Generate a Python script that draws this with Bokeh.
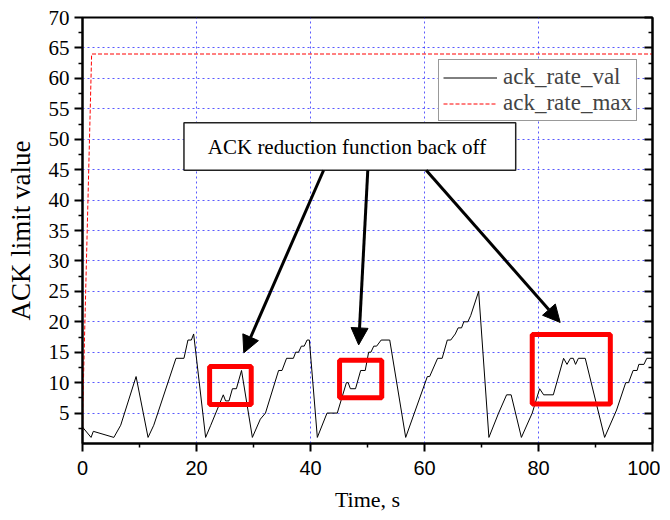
from bokeh.plotting import figure
from bokeh.models import (Range1d, FixedTicker, LinearAxis, Legend, LegendItem,
                          Arrow, NormalHead, CustomJSTickFormatter)
from bokeh.core.properties import value
from bokeh.embed import file_html
from bokeh.resources import INLINE

# ---- data ----
time_s = [0, 1.5, 1.9, 5.5, 6.7, 9.4, 11.5, 12.5, 16.4, 17.8, 18.5, 19.1, 19.5,
          21.6, 22.5, 24.7, 25.1, 25.7, 26.3, 27.0, 27.9, 29.8,
          31.2, 32.1, 34.4, 35.0, 35.8, 37.0, 37.4, 37.9, 38.4, 38.9, 39.4, 39.8,
          41.2, 42.9, 44.7, 46.3, 46.6, 47.0, 47.9, 48.8, 49.6, 50.2, 50.6, 51.1, 51.6, 52.4, 53.9,
          56.7, 60.5, 60.9, 62.3, 63.1, 64.0, 64.6, 65.4, 65.9, 66.5, 66.9, 67.6, 68.1, 69.5,
          71.3, 73.0, 74.4, 75.2, 77.0, 78.9, 80.2, 80.9, 82.6, 84.4, 85.0, 85.6, 86.1, 86.5,
          87.0, 88.2, 91.6, 93.7, 95.3, 95.8, 96.6, 97.3, 97.6, 98.5, 99.0, 100]
ack_rate_val = [2.7, 1, 2, 1, 3, 11, 1, 3, 14, 14, 17, 17, 18,
                1, 3, 8, 7, 7, 9, 9, 12, 1,
                4, 5, 12, 12, 14, 14, 15, 15, 16, 16, 17, 17,
                1, 5, 5, 10, 10, 9, 9, 12, 12, 15, 15, 16, 16, 17, 17,
                1, 11, 11, 14, 14, 17, 17, 18, 19, 19, 20, 20, 21, 25,
                1, 5, 8, 8, 1, 5, 9, 8, 8, 14, 13, 14, 14, 13,
                14, 14, 1, 5.5, 10, 10, 12, 12, 13, 13, 14, 14]
max_time = [0, 0.05, 1.6, 100]
ack_rate_max = [0, 6, 64, 64]

x_ticks = [0, 20, 40, 60, 80, 100]
x_minor = [10, 30, 50, 70, 90]
y_ticks = [5, 10, 15, 20, 25, 30, 35, 40, 45, 50, 55, 60, 65, 70]
y_minor = [2.5 + 5 * i for i in range(14)]

# highlighted regions (x0, x1, y0, y1)
box_left = [22.3, 45.1, 78.9]
box_right = [29.6, 52.5, 92.6]
box_bottom = [6.4, 7.5, 6.5]
box_top = [12.65, 13.7, 17.9]

note_text = "ACK reduction function back off"
arrow_x0 = [42.3, 50.05, 60.3]
arrow_y0 = [44.9, 44.9, 44.9]
arrow_x1 = [28.3, 48.45, 83.8]
arrow_y1 = [14.9, 16.2, 19.9]

SERIF = "Liberation Serif"
SANS = "Liberation Sans"

p = figure(frame_width=570, frame_height=426, output_backend="svg", toolbar_location=None,
           x_range=Range1d(0, 100), y_range=Range1d(0, 70),
           min_border_left=82, min_border_top=17, min_border_right=8, min_border_bottom=66,
           background_fill_color="white", border_fill_color="white")
p.outline_line_color = "black"
p.outline_line_width = 2

# grid
p.xgrid.ticker = FixedTicker(ticks=[20, 40, 60, 80])
p.ygrid.ticker = FixedTicker(ticks=y_ticks[:-1])
for g in (p.xgrid, p.ygrid):
    g.grid_line_color = "#2222ff"
    g.grid_line_dash = "2 3"
    g.grid_line_width = 1
    g.grid_line_alpha = 0.75

# axes
xa = p.xaxis[0]
xa.ticker = FixedTicker(ticks=x_ticks, minor_ticks=x_minor)
xa.axis_label = "Time, s"
xa.axis_label_text_font = SERIF
xa.axis_label_text_font_size = "22px"
xa.axis_label_text_font_style = "normal"
xa.axis_label_standoff = 9
xa.major_label_text_font = SANS
xa.major_label_text_font_size = "20px"
xa.major_label_standoff = 9
ya = p.yaxis[0]
ya.ticker = FixedTicker(ticks=y_ticks, minor_ticks=y_minor)
ya.axis_label = "ACK limit value"
ya.axis_label_text_font = SERIF
ya.axis_label_text_font_size = "27px"
ya.axis_label_text_font_style = "normal"
ya.axis_label_standoff = 10
ya.major_label_text_font = SERIF
ya.major_label_text_font_size = "21px"
ya.major_label_standoff = 5
for a in (xa, ya):
    a.axis_line_width = 2
    a.axis_line_color = "black"
    a.major_tick_line_width = 2
    a.minor_tick_line_width = 1.5
    a.major_tick_in = 0
    a.major_tick_out = 8
    a.minor_tick_in = 0
    a.minor_tick_out = 4
    a.major_label_text_color = "black"
    a.axis_label_text_color = "black"

ra = LinearAxis(ticker=FixedTicker(ticks=y_ticks, minor_ticks=y_minor),
                formatter=CustomJSTickFormatter(code="return ''"))
ra.axis_line_width = 2
ra.major_tick_line_width = 2
ra.minor_tick_line_width = 1.5
ra.major_tick_in = 8
ra.major_tick_out = 0
ra.minor_tick_in = 4
ra.minor_tick_out = 0
ra.major_label_standoff = 0
p.add_layout(ra, "right")

# data
r_val = p.line(time_s, ack_rate_val, line_color="black", line_width=1)
r_max = p.line(max_time, ack_rate_max, line_color="red", line_width=1, line_dash="4 2")

# highlight boxes
p.quad(left=box_left, right=box_right, bottom=box_bottom, top=box_top,
       fill_alpha=0, line_color="red", line_width=5)

# annotation box and arrows
p.quad(left=[17.8], right=[76.0], bottom=[44.9], top=[52.7],
       fill_color="white", line_color="#222222", line_width=1.5)
p.text(x=[46.4], y=[48.7], text=[note_text], text_font=value(SERIF),
       text_font_size="21px", text_align="center", text_baseline="middle", text_color="black")
for x0, y0, x1, y1 in zip(arrow_x0, arrow_y0, arrow_x1, arrow_y1):
    p.add_layout(Arrow(x_start=x0, y_start=y0, x_end=x1, y_end=y1,
                       line_width=3, line_color="black",
                       end=NormalHead(size=17, fill_color="black", line_color="black", line_width=1)))

legend = Legend(items=[LegendItem(label="ack_rate_val", renderers=[r_val]),
                       LegendItem(label="ack_rate_max", renderers=[r_max])],
                location=(356, 322))
legend.label_text_font = SERIF
legend.label_text_font_size = "23px"
legend.label_height = 25
legend.glyph_height = 25
legend.glyph_width = 54
legend.label_standoff = 6
legend.spacing = 0
legend.padding = 4
legend.margin = 0
legend.border_line_color = "#333333"
legend.border_line_width = 1.5
legend.background_fill_color = "white"
legend.background_fill_alpha = 1
p.add_layout(legend, "center")

open("out.html", "w").write(file_html(p, INLINE))
